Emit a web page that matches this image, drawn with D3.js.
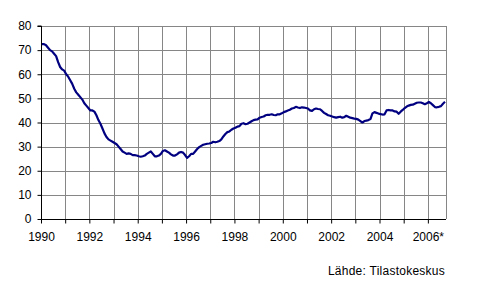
<!DOCTYPE html>
<html lang="fi">
<head>
<meta charset="utf-8">
<script src="https://d3js.org/d3.v7.min.js"></script>
<style>
  body { margin: 0; background: #fff; }
  svg text { font-family: "Liberation Sans", Arial, sans-serif; font-size: 12px; fill: #000; }
</style>
</head>
<body>
<div id="chart"></div>
<script>
// monthly values, Jan 1990 - Sep 2006
const startYear = 1990
const values1990 = [72.5, 72.5, 72, 71, 70, 69.5, 68.5, 67.5, 65, 63, 62, 61.5]
const values1991 = [60, 59, 57.5, 56, 54, 52.5, 51.5, 50.5, 49.5, 48, 47, 46]
const values1992 = [45, 45, 44.5, 43, 41, 39.5, 37.5, 35.5, 34, 33, 32.5, 32]
const values1993 = [31.5, 31, 30, 29, 28, 27.5, 27, 27.2, 27, 26.5, 26.5, 26.3]
const values1994 = [26, 25.8, 26, 26.3, 27, 27.5, 28, 27, 26, 26, 26.3, 27]
const values1995 = [28.2, 28.5, 28, 27.5, 26.8, 26.3, 26.3, 26.8, 27.5, 27.8, 27.5, 26.5]
const values1996 = [25.3, 26, 27, 27, 28, 29, 29.8, 30.3, 30.8, 31, 31.2, 31.3]
const values1997 = [31.5, 32, 31.8, 32, 32.3, 33, 34.2, 35.2, 36, 36.3, 37, 37.5]
const values1998 = [37.8, 38.3, 38.5, 39.5, 39.7, 39.3, 39.5, 40, 40.5, 41, 41.2, 41.3]
const values1999 = [42, 42.3, 42.5, 43, 43.2, 43.2, 43.4, 43.1, 43, 43.4, 43.4, 43.8]
const values2000 = [44.3, 44.6, 45, 45.3, 45.8, 46, 46.5, 46.2, 46, 46.3, 46.2, 46]
const values2001 = [45.8, 45, 44.8, 45.5, 45.8, 45.6, 45.5, 44.8, 44, 43.5, 43, 42.8]
const values2002 = [42.5, 42.2, 42, 42.2, 42.4, 42, 42.2, 42.8, 42.4, 42, 41.8, 41.6]
const values2003 = [41.5, 41.2, 40.6, 40, 40.6, 40.8, 41, 41.4, 43.8, 44.3, 44, 43.7]
const values2004 = [43.5, 43.3, 43.4, 45, 45.2, 45, 45, 44.6, 44.5, 43.6, 44.5, 45.2]
const values2005 = [46, 46.6, 47, 47.3, 47.4, 47.8, 48.2, 48.3, 48.3, 48, 47.6, 48]
const values2006 = [48.5, 48, 47.2, 46.4, 46.3, 46.5, 46.8, 47.8, 48.6]

const yTicks = [0, 10, 20, 30, 40, 50, 60, 70, 80]
const xTickYears = [1990, 1992, 1994, 1996, 1998, 2000, 2002, 2004, 2006]
const xTickLabels = ["1990", "1992", "1994", "1996", "1998", "2000", "2002", "2004", "2006*"]
const sourceText = "Lähde: Tilastokeskus"

const values = [].concat(values1990, values1991, values1992, values1993, values1994,
    values1995, values1996, values1997, values1998, values1999, values2000, values2001,
    values2002, values2003, values2004, values2005, values2006)

const data = values.map((v, i) => ({ t: startYear + (i + 0.5) / 12, v: v }))

const width = 492
const height = 287
const margin = { top: 26, left: 41, right: 46, bottom: 68 }

const x = d3.scaleLinear()
    .domain([startYear, startYear + values.length / 12])
    .range([margin.left, width - margin.right])

const y = d3.scaleLinear()
    .domain([0, 80])
    .range([height - margin.bottom, margin.top])

const svg = d3.select("#chart").append("svg")
    .attr("width", width)
    .attr("height", height)

const years = d3.range(1991, 2007)
const gridColor = "#868686"

// grid
svg.append("g")
    .selectAll("line")
    .data(yTicks.filter(d => d > 0))
    .join("line")
    .attr("x1", x.range()[0]).attr("x2", x.range()[1])
    .attr("y1", d => Math.round(y(d)) + 0.5).attr("y2", d => Math.round(y(d)) + 0.5)
    .attr("stroke", gridColor)

svg.append("g")
    .selectAll("line")
    .data(years)
    .join("line")
    .attr("x1", d => Math.round(x(d)) + 0.5).attr("x2", d => Math.round(x(d)) + 0.5)
    .attr("y1", y(80)).attr("y2", y(0))
    .attr("stroke", gridColor)

// right border
svg.append("line")
    .attr("x1", Math.round(x.range()[1]) + 0.5).attr("x2", Math.round(x.range()[1]) + 0.5)
    .attr("y1", y(80)).attr("y2", y(0))
    .attr("stroke", gridColor)

// y axis
svg.append("g")
    .attr("transform", `translate(${margin.left + 0.5},0)`)
    .call(d3.axisLeft(y).tickValues(yTicks).tickSize(4).tickPadding(6))
    .call(g => g.selectAll("path, line").attr("stroke", "#000"))
    .call(g => g.selectAll("text").style("font-size", "12px").attr("font-family", null))
    .call(g => g.select(".domain").attr("d", `M-4,${y(80)}H0V${y(0)}`))

// x axis
svg.append("g")
    .attr("transform", `translate(0,${Math.round(y(0)) + 0.5})`)
    .call(d3.axisBottom(x)
        .tickValues(d3.range(1990, 2007))
        .tickSize(4)
        .tickPadding(9)
        .tickFormat(d => {
            let i = xTickYears.indexOf(d)
            return i >= 0 ? xTickLabels[i] : ""
        }))
    .call(g => g.selectAll("path, line").attr("stroke", "#000"))
    .call(g => g.selectAll("text").style("font-size", "12px").attr("font-family", null))
    .call(g => g.select(".domain").attr("d", `M${x.range()[0]},0H${x.range()[1]}`))

// line
svg.append("path")
    .datum(data)
    .attr("fill", "none")
    .attr("stroke", "#000080")
    .attr("stroke-width", 2.2)
    .attr("stroke-linejoin", "round")
    .attr("d", d3.line().x(d => x(d.t)).y(d => y(d.v)))

svg.append("text")
    .attr("x", 445)
    .attr("y", 275)
    .attr("text-anchor", "end")
    .attr("letter-spacing", "0.25px")
    .text(sourceText)
</script>
</body>
</html>
